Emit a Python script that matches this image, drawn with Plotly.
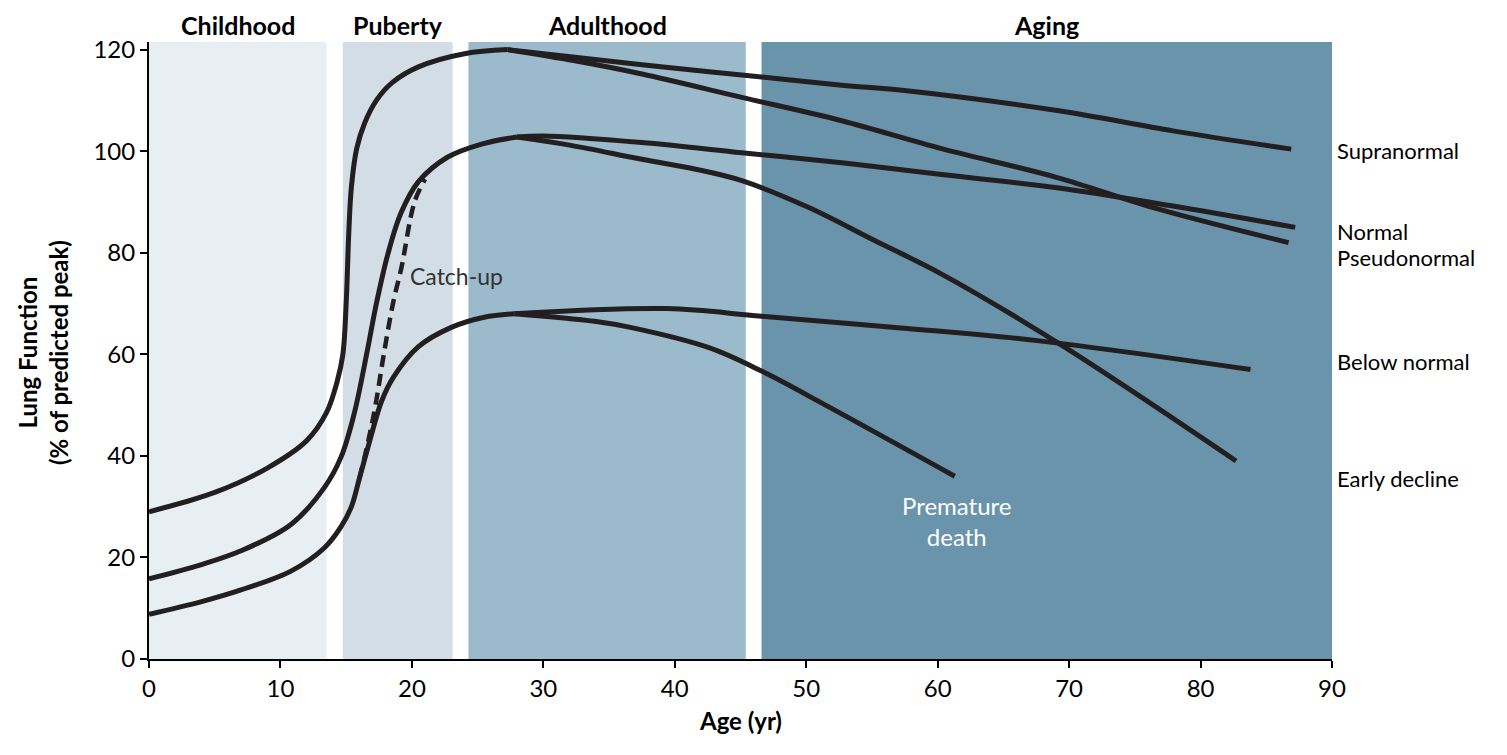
import plotly.graph_objects as go

# Life stages (age ranges in years)
stages = ["Childhood", "Puberty", "Adulthood", "Aging"]
stage_start = [0, 14.75, 24.3, 46.6]
stage_end = [13.5, 23.1, 45.4, 90]
stage_colors = ["#e8eff3", "#d3dde5", "#9bbacc", "#6994ac"]

# Growth phase, shared by the trajectories that branch off each peak
high_age = [0, 5, 9, 12, 13.5, 14.3, 14.75, 15.0, 15.2, 15.4, 15.8, 16.4, 17.3, 18.5, 20.5, 24, 27.3]
high_val = [29, 32.8, 37.6, 43, 48.5, 54.5, 60, 70, 84, 93, 100.5, 105.5, 110, 113.5, 116.6, 119.2, 120]

mid_age = [0, 4, 7, 10.8, 13.35, 14.6, 15.6, 16.6, 17.3, 18.2, 19.2, 20.5, 22.7, 25.3, 28]
mid_val = [15.8, 18.6, 21.3, 26.5, 33.8, 39.7, 48.2, 60.6, 70, 80, 88, 94, 98.8, 101.4, 102.8]

low_age = [0, 4, 7, 10.8, 13.35, 14.6, 15.4, 16.0, 16.65, 17.7, 18.6, 20.5, 23, 25.5, 27.8]
low_val = [8.8, 11.3, 13.6, 17.3, 21.9, 26, 30, 35.5, 41.6, 50.8, 55.5, 61.5, 65.3, 67.3, 68]

# Adult / aging branches
supra_age = [27.3, 37.5, 45.1, 52.7, 57.3, 69.1, 77.9, 86.9]
supra_val = [120, 117, 115, 113, 112, 108, 104, 100.4]

pseudo_age = [27.3, 32.4, 37.5, 45.1, 52.7, 60.3, 69.1, 76.4, 86.7]
pseudo_val = [120, 117.8, 115.2, 110.6, 106, 100.5, 94.8, 88.9, 82]

normal_age = [28, 30, 37.5, 45.1, 52.7, 60.3, 69.1, 77.9, 87.2]
normal_val = [102.8, 103, 101.7, 99.7, 97.7, 95.4, 92.8, 89.2, 85]

early_age = [28, 32, 37.5, 41.5, 45.1, 50.2, 55.2, 60.3, 69.3, 82.7]
early_val = [102.8, 101.2, 98.4, 96.5, 94.2, 88.9, 82.4, 75.8, 62, 39]

below_age = [27.8, 39.4, 46.6, 57.2, 67.9, 83.8]
below_val = [68, 69, 67.5, 65.2, 62.6, 57]

death_age = [27.8, 33.9, 36.8, 42.6, 46.6, 51.4, 61.3]
death_val = [68, 66.5, 65.2, 61.3, 56.7, 50.1, 36]

catch_age = [16.0, 16.6, 17.2, 17.9, 18.6, 19.2, 20.2, 21]
catch_val = [35.5, 42, 49.5, 60.6, 70.5, 77, 90, 94.5]

# Right-hand trajectory labels
traj_labels = ["Supranormal", "Normal", "Pseudonormal", "Below normal", "Early decline"]
traj_label_y = [100.2, 84.1, 79.1, 58.5, 35.5]

LINE = "#231f20"
FONT = "Lato"

fig = go.Figure()

solid = [
    (high_age, high_val), (mid_age, mid_val), (low_age, low_val),
    (supra_age, supra_val), (pseudo_age, pseudo_val),
    (normal_age, normal_val), (early_age, early_val),
    (below_age, below_val), (death_age, death_val),
]
for ages, vals in solid:
    fig.add_trace(go.Scatter(
        x=ages, y=vals, mode="lines",
        line=dict(color=LINE, width=5, shape="spline", smoothing=1.0),
        hoverinfo="skip", showlegend=False
    ))

fig.add_trace(go.Scatter(
    x=catch_age, y=catch_val, mode="lines",
    line=dict(color=LINE, width=4.5, dash="12px,7px", shape="spline", smoothing=1.0),
    hoverinfo="skip", showlegend=False
))

# Background bands for each life stage
for name, x0, x1, col in zip(stages, stage_start, stage_end, stage_colors):
    fig.add_shape(type="rect", xref="x", yref="paper", x0=x0, x1=x1, y0=0, y1=1,
                  fillcolor=col, line=dict(width=0), layer="below")
    fig.add_annotation(x=(x0 + x1) / 2, y=1.0, xref="x", yref="paper",
                       text="<b>%s</b>" % name, showarrow=False, yanchor="bottom", yshift=0,
                       font=dict(family=FONT, size=25, color="black"))

for txt, yv in zip(traj_labels, traj_label_y):
    fig.add_annotation(x=90, y=yv, xref="x", yref="y", text=txt, showarrow=False,
                       xanchor="left", xshift=3, font=dict(family=FONT, size=22, color="black"))

fig.add_annotation(x=19.7, y=75.5, text="Catch-up", showarrow=False, xanchor="left",
                   font=dict(family=FONT, size=23, color="#333333"))
fig.add_annotation(x=61.5, y=27.2, text="Premature<br>death", showarrow=False,
                   font=dict(family=FONT, size=24, color="white"))

# Axis titles
fig.add_annotation(x=0.5, y=-0.1, xref="paper", yref="paper", text="<b>Age (yr)</b>",
                   showarrow=False, xanchor="center", yanchor="middle",
                   font=dict(family=FONT, size=24, color="black"))
fig.add_annotation(x=-0.0895, y=0.496, xref="paper", yref="paper",
                   text="<b>Lung Function<br>(% of predicted peak)</b>", textangle=-90,
                   showarrow=False, xanchor="center", yanchor="middle",
                   font=dict(family=FONT, size=24, color="black"))

fig.update_layout(
    width=1507, height=755,
    margin=dict(l=141, r=183, t=34, b=104),
    plot_bgcolor="white", paper_bgcolor="white",
    font=dict(family=FONT, size=24, color="black"),
)
fig.update_xaxes(range=[0, 90], tickvals=list(range(0, 91, 10)), showgrid=False, zeroline=False,
                 showline=True, linecolor="black", linewidth=2, ticks="outside", ticklen=7,
                 tickwidth=2, tickcolor="black")
fig.update_yaxes(range=[0, 121.5], tickvals=list(range(0, 121, 20)), showgrid=False, zeroline=False,
                 showline=True, linecolor="black", linewidth=2, ticks="outside", ticklen=7,
                 tickwidth=2, tickcolor="black")

fig.write_html("out.html")
